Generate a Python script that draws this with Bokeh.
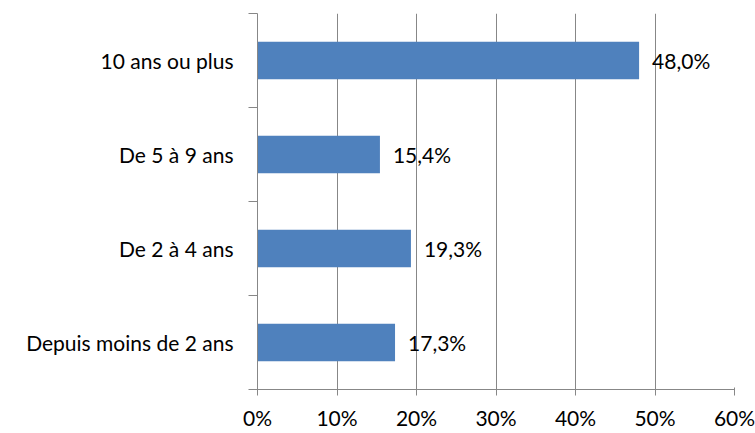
from bokeh.plotting import figure
from bokeh.models import ColumnDataSource, FixedTicker, PrintfTickFormatter, Range1d
from bokeh.core.properties import value
from bokeh.embed import file_html
from bokeh.resources import INLINE

# Durée (bottom to top) and share of respondents, in %
categories = ["Depuis moins de 2 ans", "De 2 à 4 ans", "De 5 à 9 ans", "10 ans ou plus"]
shares = [17.3, 19.3, 15.4, 48.0]
x_ticks = [0, 10, 20, 30, 40, 50, 60]

FONT = "Lato"
FONT_SIZE = "21px"
GRID = "#878787"
BAR = "#4F81BD"

pos = [i + 0.5 for i in range(len(categories))]
labels = [f"{v:.1f}".replace(".", ",") + "%" for v in shares]
src = ColumnDataSource(dict(cat=categories, y=pos, share=shares, label=labels))

p = figure(width=755, height=433, output_backend="svg", toolbar_location=None,
           x_range=Range1d(0, 60), y_range=Range1d(0, len(categories)),
           min_border_left=257, min_border_right=21, min_border_top=13, min_border_bottom=44)
p.outline_line_color = None
p.background_fill_color = "white"
p.border_fill_color = "white"

p.hbar(y="y", left=0, right="share", height=0.4, source=src,
       fill_color=BAR, line_color=None)
p.text(x="share", y="y", text="label", source=src, x_offset=13,
       text_align="left", text_baseline="middle",
       text_font=value(FONT), text_font_size=FONT_SIZE, text_color="black")

# x axis: percentages with vertical grid
p.xaxis.ticker = FixedTicker(ticks=x_ticks, minor_ticks=[])
p.xaxis.formatter = PrintfTickFormatter(format="%d%%")
p.xaxis.axis_line_color = GRID
p.xaxis.major_tick_line_color = GRID
p.xaxis.major_tick_in = 2
p.xaxis.major_tick_out = 6
p.xaxis.major_label_standoff = 9
p.xaxis.major_label_text_font = FONT
p.xaxis.major_label_text_font_size = FONT_SIZE
p.xaxis.major_label_text_color = "black"
p.xgrid.grid_line_color = GRID
p.xgrid.grid_line_width = 1

# y axis: category names centred, tick marks on the boundaries
p.yaxis.ticker = FixedTicker(ticks=pos, minor_ticks=list(range(len(categories) + 1)))
p.yaxis.major_label_overrides = {y: c for y, c in zip(pos, categories)}
p.yaxis.axis_line_color = GRID
p.yaxis.major_tick_line_color = None
p.yaxis.major_tick_in = 0
p.yaxis.major_tick_out = 9
p.yaxis.minor_tick_line_color = GRID
p.yaxis.minor_tick_in = 0
p.yaxis.minor_tick_out = 9
p.yaxis.major_label_standoff = 15
p.yaxis.major_label_text_font = FONT
p.yaxis.major_label_text_font_size = FONT_SIZE
p.yaxis.major_label_text_color = "black"
p.ygrid.grid_line_color = None

open("out.html", "w").write(file_html(p, INLINE))
